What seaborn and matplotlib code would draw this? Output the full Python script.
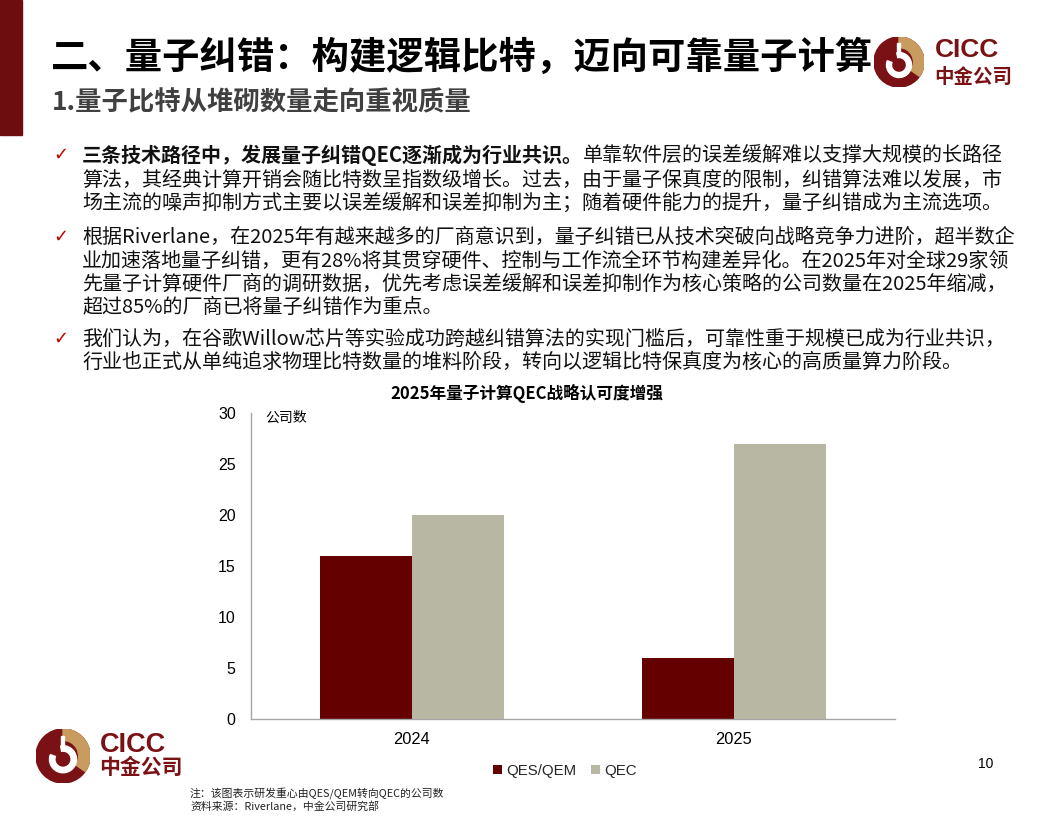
import matplotlib
matplotlib.use("Agg")
import matplotlib.pyplot as plt
import seaborn as sns
import pandas as pd
from matplotlib.patches import Wedge, Circle, Rectangle

# ---------------- data ----------------
years = ["2024", "2025"]
qes_qem = [16, 6]
qec = [20, 27]
series_names = ["QES/QEM", "QEC"]
y_ticks = [0, 5, 10, 15, 20, 25, 30]

chart_title = "2025年量子计算QEC战略认可度增强"
y_unit = "公司数"
page_title = "二、量子纠错：构建逻辑比特，迈向可靠量子计算"
page_subtitle = "1.量子比特从堆砌数量走向重视质量"
bullet_lines = [
    [("三条技术路径中，发展量子纠错QEC逐渐成为行业共识。", True), ("单靠软件层的误差缓解难以支撑大规模的长路径", False)],
    [("算法，其经典计算开销会随比特数呈指数级增长。过去，由于量子保真度的限制，纠错算法难以发展，市", False)],
    [("场主流的噪声抑制方式主要以误差缓解和误差抑制为主；随着硬件能力的提升，量子纠错成为主流选项。", False)],
    [("根据Riverlane，在2025年有越来越多的厂商意识到，量子纠错已从技术突破向战略竞争力进阶，超半数企", False)],
    [("业加速落地量子纠错，更有28%将其贯穿硬件、控制与工作流全环节构建差异化。在2025年对全球29家领", False)],
    [("先量子计算硬件厂商的调研数据，优先考虑误差缓解和误差抑制作为核心策略的公司数量在2025年缩减，", False)],
    [("超过85%的厂商已将量子纠错作为重点。", False)],
    [("我们认为，在谷歌Willow芯片等实验成功跨越纠错算法的实现门槛后，可靠性重于规模已成为行业共识，", False)],
    [("行业也正式从单纯追求物理比特数量的堆料阶段，转向以逻辑比特保真度为核心的高质量算力阶段。", False)],
]
bullet_starts = [0, 3, 7]
note_lines = ["注：该图表示研发重心由QES/QEM转向QEC的公司数", "资料来源：Riverlane，中金公司研究部"]
page_number = "10"

# ---------------- style ----------------
sns.set_theme(style="white")
plt.rcParams["font.family"] = ["Liberation Sans", "Noto Sans CJK SC", "DejaVu Sans"]

W, H = 1056, 816
fig = plt.figure(figsize=(W / 100, H / 100), dpi=100)
fig.patch.set_facecolor("white")

def fx(x):
    return x / W

def fy(y):
    return 1 - y / H

CJK = ["Noto Sans CJK SC", "DejaVu Sans"]
DARK_RED = "#640000"
GRAY = "#b8b7a4"
LOGO_RED = "#7a1114"
LOGO_GOLD = "#c89b5e"

# left bar
fig.patches.append(Rectangle((0, fy(135)), fx(22), 135 / H, transform=fig.transFigure,
                             color="#6e0d10", zorder=0))

# titles
fig.text(fx(51), fy(57), page_title, family=CJK, fontsize=26.9, fontweight="bold",
         color="black", va="center", ha="left")
fig.text(fx(52), fy(103), page_subtitle, family=CJK, fontsize=19, fontweight="bold",
         color="#404040", va="center", ha="left")

# bullets
renderer = fig.canvas.get_renderer()
line_y = [155, 180, 203, 237, 261, 284, 307, 339, 362]
for i, segs in enumerate(bullet_lines):
    y = line_y[i]
    if i in bullet_starts:
        fig.text(fx(61), fy(y), "\u2713", family=["DejaVu Sans"], fontsize=13,
                 color="#c00000", va="center", ha="center")
    x = 82
    for txt, bold in segs:
        t = fig.text(fx(x), fy(y), txt, family=CJK, fontsize=14.45,
                     fontweight="bold" if bold else "normal", color="#111111",
                     va="center", ha="left")
        bb = t.get_window_extent(renderer)
        x += bb.width

# ---------------- chart ----------------
df = pd.DataFrame({
    "year": years * 2,
    "count": qes_qem + qec,
    "series": [series_names[0]] * len(years) + [series_names[1]] * len(years),
})

ax = fig.add_axes([fx(251), fy(719), (895 - 251) / W, (719 - 413) / H])
sns.barplot(data=df, x="year", y="count", hue="series", palette=[DARK_RED, GRAY],
            width=0.571, saturation=1, ax=ax, linewidth=0, edgecolor="none")
ax.set_xlim(-0.5, 1.5)
ax.set_ylim(0, 30)
ax.set_yticks(y_ticks)
ax.set_xlabel("")
ax.set_ylabel("")
for s in ["top", "right"]:
    ax.spines[s].set_visible(False)
for s in ["left", "bottom"]:
    ax.spines[s].set_color("#a6a6a6")
    ax.spines[s].set_linewidth(1.0)
ax.tick_params(axis="y", length=0, pad=11, labelsize=11.5, labelcolor="black")
ax.tick_params(axis="x", which="major", length=0, pad=9, labelsize=11.8, labelcolor="black")
ax.set_xticks([-0.5, 0.5, 1.5], minor=True)
ax.tick_params(axis="x", which="minor", length=4, color="#a6a6a6", width=1, direction="out")
ax.set_facecolor("white")
ax.text(fx(265), fy(418), y_unit, transform=fig.transFigure, family=CJK, fontsize=10,
        color="black", va="center", ha="left")
fig.text(fx(527), fy(393), chart_title, family=CJK, fontsize=12, fontweight="bold",
         color="black", va="center", ha="center")

handles, labels = ax.get_legend_handles_labels()
if ax.get_legend() is not None:
    ax.get_legend().remove()
fig.legend(handles, labels, loc="center", bbox_to_anchor=(fx(565), fy(771)), ncol=2,
           frameon=False, handlelength=0.6, handleheight=0.6, handletextpad=0.25,
           columnspacing=1.0, fontsize=10.8)

# notes and page number
fig.text(fx(190), fy(793), note_lines[0], family=CJK, fontsize=7.8, color="#222222",
         va="center", ha="left")
fig.text(fx(190), fy(806), note_lines[1], family=CJK, fontsize=7.8, color="#222222",
         va="center", ha="left")
fig.text(fx(986), fy(764), page_number, fontsize=10, color="black", va="center", ha="center")

# ---------------- logos ----------------
def draw_logo(cx, cy, r, tx, t1y, t2y, s1, s2):
    lax = fig.add_axes([fx(cx - r), fy(cy + r), 2 * r / W, 2 * r / H])
    lax.set_xlim(-1, 1)
    lax.set_ylim(-1, 1)
    lax.set_aspect("equal")
    lax.axis("off")
    lax.add_patch(Circle((0, 0), 1.0, color=LOGO_RED))
    lax.add_patch(Wedge((0, 0), 1.0, -35, 90, width=0.42, color=LOGO_GOLD))
    lax.add_patch(Wedge((0.0, -0.12), 0.5, -200, 100, width=0.2, color="white"))
    lax.add_patch(Rectangle((-0.08, 0.3), 0.1, 0.45, color="white"))
    fig.text(fx(tx), fy(t1y), "CICC", fontsize=s1, fontweight="bold", color=LOGO_RED,
             va="center", ha="left")
    fig.text(fx(tx - 1), fy(t2y), "中金公司", family=CJK, fontsize=s2, fontweight="bold",
             color=LOGO_RED, va="center", ha="left")

draw_logo(899, 62, 25, 935, 50, 77, 19, 14)
draw_logo(63, 756, 27, 100, 745, 767, 19.5, 15)

fig.savefig("out.png", dpi=100, facecolor="white")
